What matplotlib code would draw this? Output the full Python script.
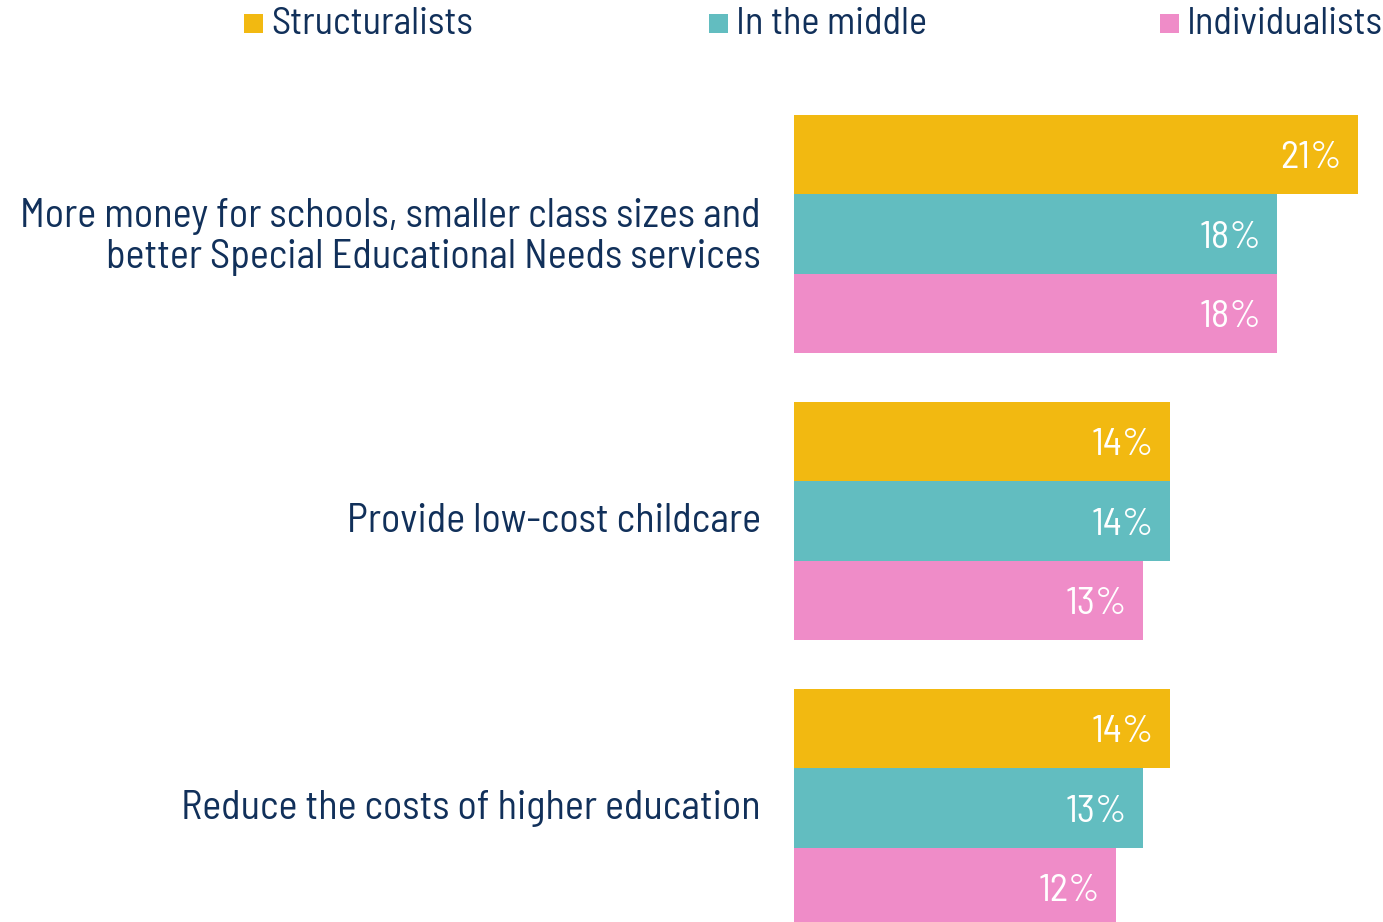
import matplotlib
matplotlib.use("Agg")
import matplotlib.pyplot as plt
from matplotlib.patches import Rectangle
from matplotlib import font_manager
from matplotlib.transforms import ScaledTranslation
import numpy as np

categories = [
    "More money for schools, smaller class sizes and\nbetter Special Educational Needs services",
    "Provide low-cost childcare",
    "Reduce the costs of higher education",
]
series = ["Structuralists", "In the middle", "Individualists"]
values = {
    "Structuralists": [21, 14, 14],
    "In the middle": [18, 14, 13],
    "Individualists": [18, 13, 12],
}
colors = ["#F2B911", "#62BDC0", "#EF8CC8"]
navy = "#11305A"

avail = {f.name for f in font_manager.fontManager.ttflist}
fam = next((f for f in ["Barlow Semi Condensed", "Roboto Condensed", "DejaVu Sans"] if f in avail), "DejaVu Sans")
plt.rcParams["font.family"] = [fam, "DejaVu Sans"]

W, H = 1383, 922
fig = plt.figure(figsize=(W / 100, H / 100), dpi=100)
x0 = 794
ax = fig.add_axes([x0 / W, 0, 1 - x0 / W, 1])
px_per_pct = 26.86
ax.set_xlim(0, (W - x0) / px_per_pct)
spacing = 287.0
bh = 79.5 / spacing
ax.set_ylim((H - 234) / spacing, -234 / spacing)

y = np.arange(len(categories))
for i, s in enumerate(series):
    yy = y + (i - 1) * bh
    ax.barh(yy, values[s], height=bh, color=colors[i], linewidth=0)
    for yv, v in zip(yy, values[s]):
        ax.text(v - 16 / px_per_pct, yv + 0.014, f"{v}%", ha="right", va="center",
                color="white", fontsize=28, fontweight="normal")

ax.set_yticks(y)
ax.set_yticklabels(categories, fontsize=29, color=navy, linespacing=1.17)
ax.tick_params(axis="y", length=0, pad=24)
up = ScaledTranslation(0, 3.5 / 100, fig.dpi_scale_trans)
for lbl in ax.get_yticklabels():
    lbl.set_transform(lbl.get_transform() + up)
ax.set_xticks([])
for sp in ax.spines.values():
    sp.set_visible(False)

# legend
leg_sq = [244, 709, 1160]
for i, s in enumerate(series):
    fig.patches.append(Rectangle((leg_sq[i] / W, 1 - 33 / H), 19 / W, 19 / H,
                                 transform=fig.transFigure, color=colors[i], linewidth=0))
    fig.text((leg_sq[i] + 27) / W, 1 - 25 / H, s, ha="left", va="center",
             fontsize=27.6, color=navy)

fig.savefig("out.png", dpi=100)
